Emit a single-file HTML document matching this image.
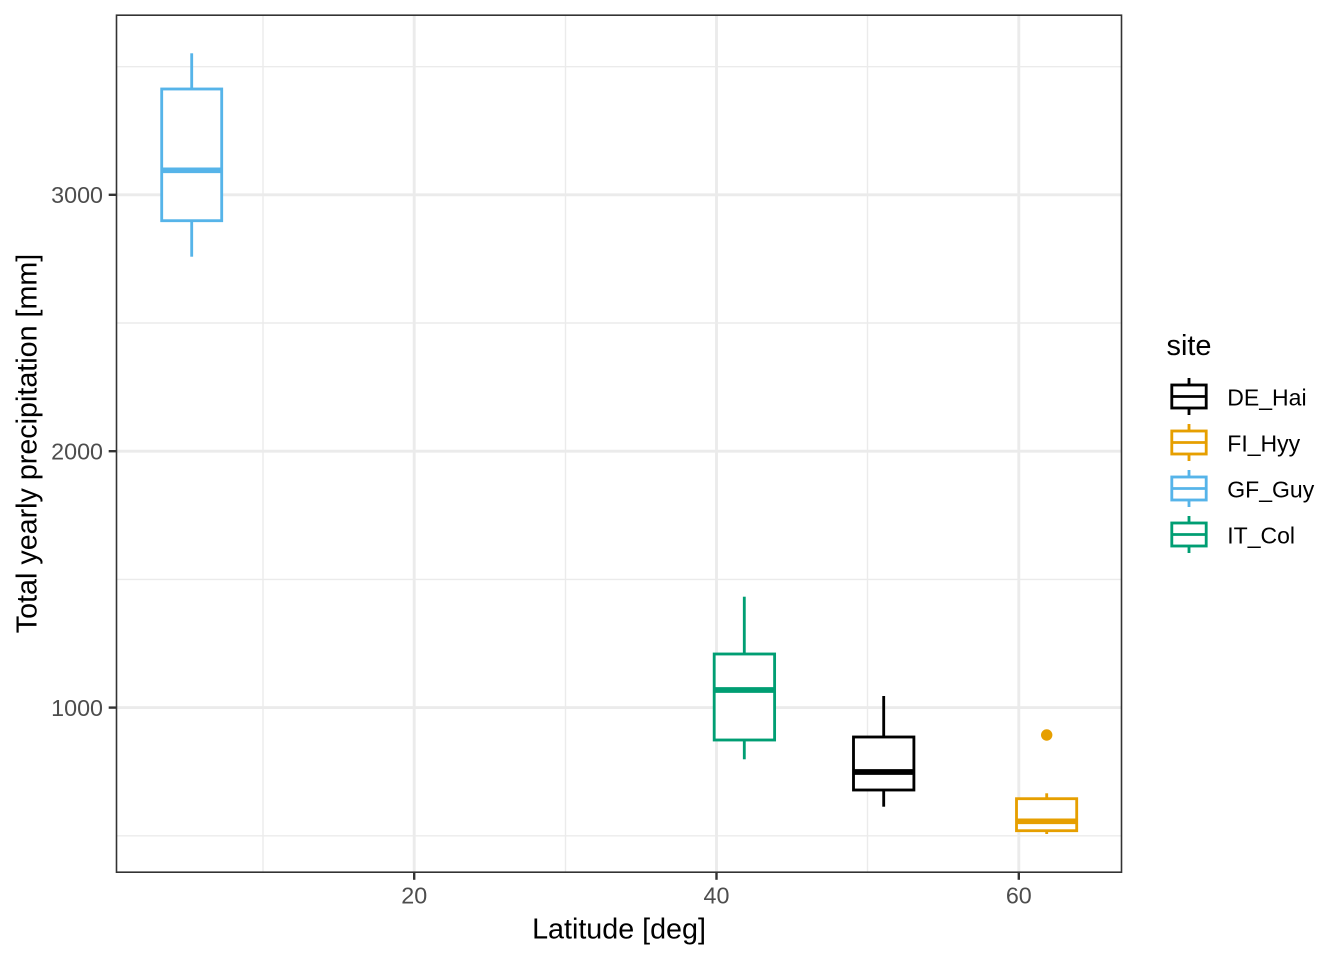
<!DOCTYPE html>
<html>
<head>
<meta charset="utf-8">
<style>
  html, body { margin: 0; padding: 0; background: #ffffff; }
  svg { display: block; }
  text { font-family: "Liberation Sans", Arial, sans-serif; }
</style>
</head>
<body>
<svg width="1344" height="960" viewBox="0 0 1344 960" xmlns="http://www.w3.org/2000/svg">
  <rect x="0" y="0" width="1344" height="960" fill="#ffffff"/>

  <!-- minor grid -->
  <g stroke="#EBEBEB" stroke-width="1.42" fill="none">
    <line x1="263" y1="15" x2="263" y2="872"/>
    <line x1="565.5" y1="15" x2="565.5" y2="872"/>
    <line x1="867.5" y1="15" x2="867.5" y2="872"/>
    <line x1="116.5" y1="66.7" x2="1121.5" y2="66.7"/>
    <line x1="116.5" y1="323" x2="1121.5" y2="323"/>
    <line x1="116.5" y1="579.4" x2="1121.5" y2="579.4"/>
    <line x1="116.5" y1="835.8" x2="1121.5" y2="835.8"/>
  </g>
  <!-- major grid -->
  <g stroke="#EBEBEB" stroke-width="2.84" fill="none">
    <line x1="414.2" y1="15" x2="414.2" y2="872"/>
    <line x1="716.5" y1="15" x2="716.5" y2="872"/>
    <line x1="1018.8" y1="15" x2="1018.8" y2="872"/>
    <line x1="116.5" y1="194.8" x2="1121.5" y2="194.8"/>
    <line x1="116.5" y1="451.2" x2="1121.5" y2="451.2"/>
    <line x1="116.5" y1="707.6" x2="1121.5" y2="707.6"/>
  </g>

  <!-- GF_Guy -->
  <g stroke="#56B4E9" stroke-width="2.84" fill="none">
    <line x1="191.7" y1="53.3" x2="191.7" y2="89"/>
    <line x1="191.7" y1="220.7" x2="191.7" y2="256.7"/>
    <rect x="161.7" y="89" width="60" height="131.7" fill="#ffffff"/>
    <line x1="161.7" y1="170.3" x2="221.7" y2="170.3" stroke-width="5.68"/>
  </g>

  <!-- IT_Col -->
  <g stroke="#009E73" stroke-width="2.84" fill="none">
    <line x1="744.3" y1="596.7" x2="744.3" y2="654"/>
    <line x1="744.3" y1="740" x2="744.3" y2="759.3"/>
    <rect x="714.2" y="654" width="60.4" height="86" fill="#ffffff"/>
    <line x1="714.2" y1="690" x2="774.6" y2="690" stroke-width="5.68"/>
  </g>

  <!-- DE_Hai -->
  <g stroke="#000000" stroke-width="2.84" fill="none">
    <line x1="883.7" y1="696" x2="883.7" y2="737"/>
    <line x1="883.7" y1="790" x2="883.7" y2="806.7"/>
    <rect x="853.5" y="737" width="60.4" height="53" fill="#ffffff"/>
    <line x1="853.5" y1="772" x2="913.9" y2="772" stroke-width="5.68"/>
  </g>

  <!-- FI_Hyy -->
  <g stroke="#E69F00" stroke-width="2.84" fill="none">
    <line x1="1046.7" y1="793.3" x2="1046.7" y2="798.7"/>
    <line x1="1046.7" y1="830.7" x2="1046.7" y2="834"/>
    <rect x="1016.5" y="798.7" width="60.2" height="32" fill="#ffffff"/>
    <line x1="1016.5" y1="821.3" x2="1076.7" y2="821.3" stroke-width="5.68"/>
  </g>
  <circle cx="1046.7" cy="735" r="5.7" fill="#E69F00"/>

  <!-- panel border -->
  <rect x="116.5" y="15.2" width="1005" height="857" fill="none" stroke="#333333" stroke-width="1.6"/>

  <!-- axis ticks -->
  <g stroke="#333333" stroke-width="2.4">
    <line x1="108.7" y1="194.8" x2="116.5" y2="194.8"/>
    <line x1="108.7" y1="451.2" x2="116.5" y2="451.2"/>
    <line x1="108.7" y1="707.6" x2="116.5" y2="707.6"/>
    <line x1="414.2" y1="872" x2="414.2" y2="879.8"/>
    <line x1="716.5" y1="872" x2="716.5" y2="879.8"/>
    <line x1="1018.8" y1="872" x2="1018.8" y2="879.8"/>
  </g>

  <!-- tick labels -->
  <g fill="#4D4D4D" font-size="23.3">
    <text x="103" y="203" text-anchor="end">3000</text>
    <text x="103" y="459.4" text-anchor="end">2000</text>
    <text x="103" y="715.8" text-anchor="end">1000</text>
    <text x="414.2" y="903.5" text-anchor="middle">20</text>
    <text x="716.5" y="903.5" text-anchor="middle">40</text>
    <text x="1018.8" y="903.5" text-anchor="middle">60</text>
  </g>

  <!-- axis titles -->
  <text x="619" y="938.3" text-anchor="middle" font-size="28.7" fill="#000000">Latitude [deg]</text>
  <text transform="translate(36.5,443.5) rotate(-90)" text-anchor="middle" font-size="28.7" fill="#000000">Total yearly precipitation [mm]</text>

  <!-- legend -->
  <text x="1166.5" y="355" font-size="28.9" fill="#000000">site</text>

  <g stroke-width="2.84" fill="none">
    <g stroke="#000000">
      <line x1="1189" y1="378" x2="1189" y2="385"/>
      <line x1="1189" y1="408" x2="1189" y2="415"/>
      <rect x="1171.8" y="385" width="34.4" height="23"/>
      <line x1="1171.8" y1="396.5" x2="1206.2" y2="396.5"/>
    </g>
    <g stroke="#E69F00">
      <line x1="1189" y1="424" x2="1189" y2="431"/>
      <line x1="1189" y1="454" x2="1189" y2="461"/>
      <rect x="1171.8" y="431" width="34.4" height="23"/>
      <line x1="1171.8" y1="442.5" x2="1206.2" y2="442.5"/>
    </g>
    <g stroke="#56B4E9">
      <line x1="1189" y1="470" x2="1189" y2="477"/>
      <line x1="1189" y1="500" x2="1189" y2="507"/>
      <rect x="1171.8" y="477" width="34.4" height="23"/>
      <line x1="1171.8" y1="488.5" x2="1206.2" y2="488.5"/>
    </g>
    <g stroke="#009E73">
      <line x1="1189" y1="516" x2="1189" y2="523"/>
      <line x1="1189" y1="546" x2="1189" y2="553"/>
      <rect x="1171.8" y="523" width="34.4" height="23"/>
      <line x1="1171.8" y1="534.5" x2="1206.2" y2="534.5"/>
    </g>
  </g>

  <g fill="#000000" font-size="23">
    <text x="1227.3" y="405.5">DE_Hai</text>
    <text x="1227.3" y="451.5">FI_Hyy</text>
    <text x="1227.3" y="497.5">GF_Guy</text>
    <text x="1227.3" y="543.5">IT_Col</text>
  </g>
</svg>
</body>
</html>
